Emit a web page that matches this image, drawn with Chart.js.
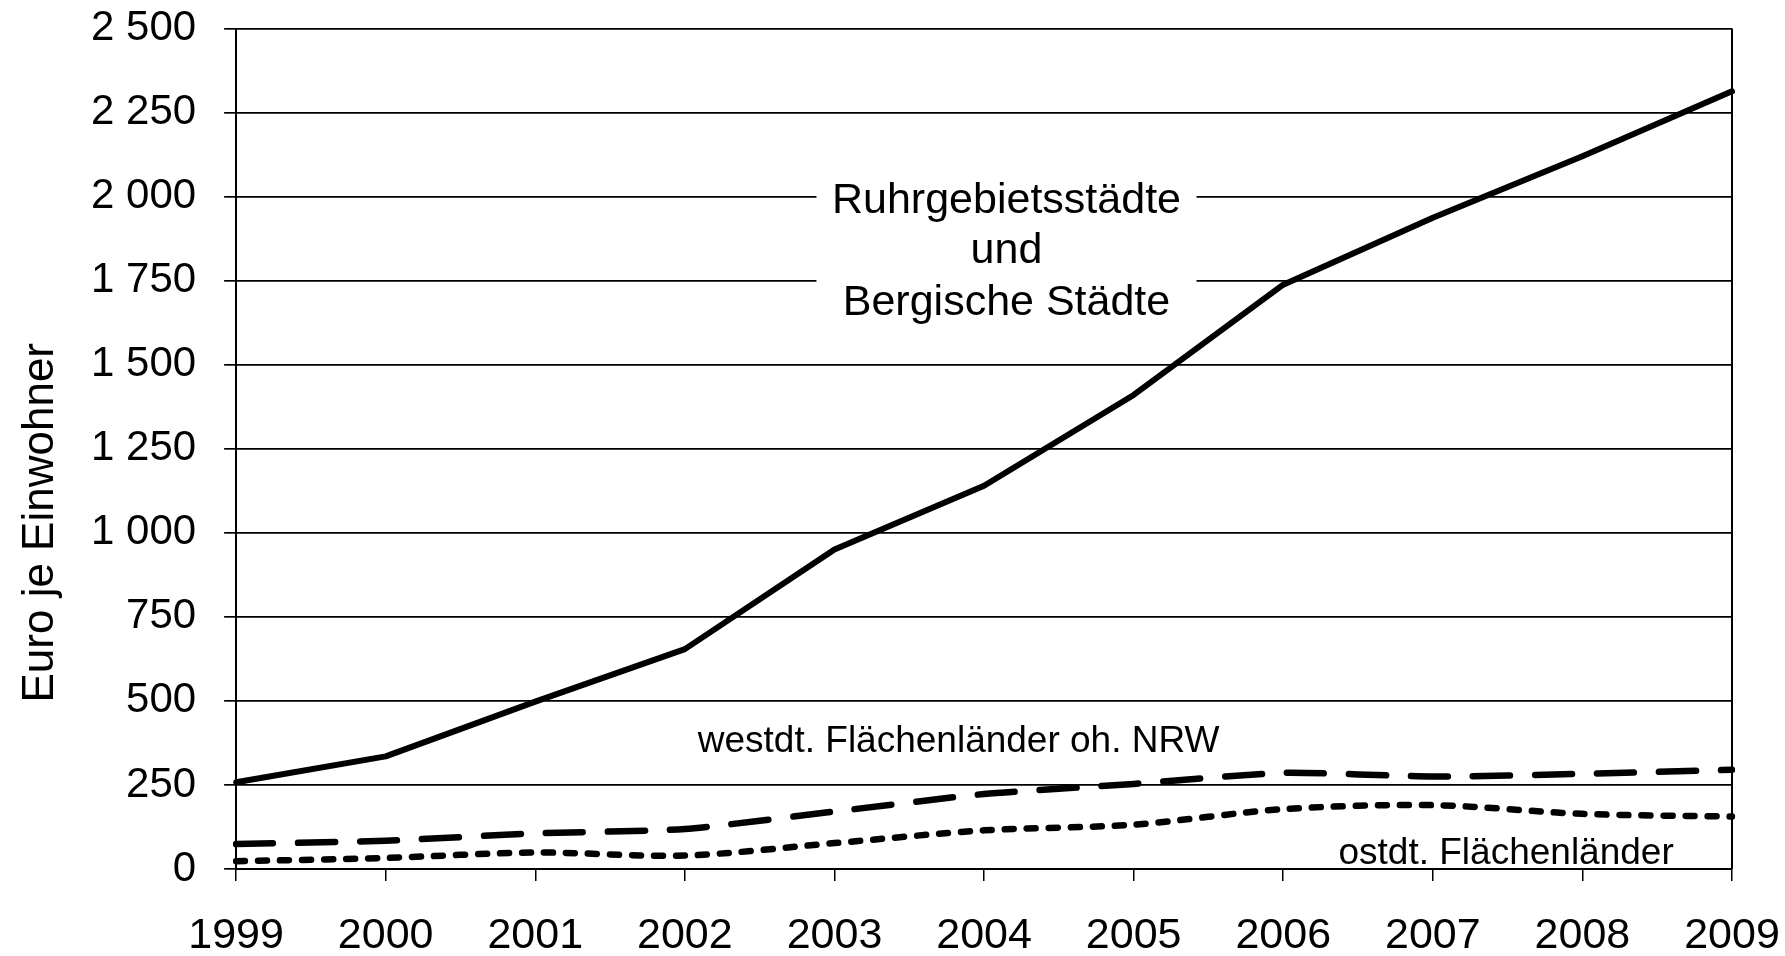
<!DOCTYPE html>
<html>
<head>
<meta charset="utf-8">
<script src="https://cdn.jsdelivr.net/npm/chart.js@4"></script>
<style>
html, body { margin: 0; padding: 0; background: #fff; overflow: hidden; }
canvas { display: block; }
</style>
</head>
<body>
<canvas id="myChart" width="1785" height="956"></canvas>
<script>
const years = ['1999', '2000', '2001', '2002', '2003', '2004', '2005', '2006', '2007', '2008', '2009'];
const ruhrValues = [258, 335, 498, 654, 950, 1140, 1410, 1738, 1937, 2120, 2313];
const westValues = [74, 84, 106, 119, 171, 223, 253, 286, 275, 283, 295];
const eastValues = [23, 33, 49, 40, 77, 115, 132, 178, 190, 164, 156];
const yTicks = [0, 250, 500, 750, 1000, 1250, 1500, 1750, 2000, 2250, 2500];

const yTitle = 'Euro je Einwohner';
const ruhrLabel = ['Ruhrgebietsstädte', 'und', 'Bergische Städte'];
const westLabel = 'westdt. Flächenländer oh. NRW';
const eastLabel = 'ostdt. Flächenländer';

const fontFamily = '"Liberation Sans", Arial, Helvetica, sans-serif';
Chart.defaults.font.family = fontFamily;
Chart.defaults.color = '#000';

// format 2500 -> "2 500"
function fmt(v) {
    if (v < 1000) return String(v);
    const th = Math.floor(v / 1000);
    const rest = String(v % 1000).padStart(3, '0');
    return th + ' ' + rest;
}

// y title, right border and the text labels inside the plot
const extras = {
    id: 'extras',
    beforeDatasetsDraw(chart) {
        const { ctx, chartArea, scales: { x, y } } = chart;
        ctx.save();

        ctx.strokeStyle = '#000';
        ctx.lineWidth = 2;
        ctx.beginPath();
        ctx.moveTo(chartArea.right, chartArea.top);
        ctx.lineTo(chartArea.right, chartArea.bottom);
        ctx.stroke();

        // Ruhr label with white box over the gridlines
        const cx = x.getPixelForValue(5.15);
        const by = y.getPixelForValue(1952);
        ctx.fillStyle = '#fff';
        ctx.fillRect(cx - 190, by - 42, 380, 160);
        ctx.fillStyle = '#000';
        ctx.textAlign = 'center';
        ctx.textBaseline = 'alphabetic';
        ctx.font = '43px ' + fontFamily;
        ctx.fillText(ruhrLabel[0], cx, by);
        ctx.fillText(ruhrLabel[1], cx, by + 50);
        ctx.fillText(ruhrLabel[2], cx, by + 102);

        ctx.font = '37px ' + fontFamily;
        ctx.fillText(westLabel, x.getPixelForValue(4.83), y.getPixelForValue(347));
        ctx.fillText(eastLabel, x.getPixelForValue(8.49), y.getPixelForValue(16));

        ctx.translate(53, (chartArea.top + chartArea.bottom) / 2 + 74);
        ctx.rotate(-Math.PI / 2);
        ctx.font = '44px ' + fontFamily;
        ctx.fillText(yTitle, 0, 0);
        ctx.restore();
    }
};

const ctx = document.getElementById('myChart');
const myChart = new Chart(ctx, {
    type: 'line',
    data: {
        labels: years,
        datasets: [{
            label: 'Ruhrgebietsstädte und Bergische Städte',
            data: ruhrValues,
            borderColor: '#000',
            borderWidth: 6,
            tension: 0,
            pointRadius: 0,
            borderCapStyle: 'round',
            borderJoinStyle: 'round'
        }, {
            label: westLabel,
            data: westValues,
            borderColor: '#000',
            borderWidth: 6.5,
            borderDash: [37, 25],
            borderCapStyle: 'round',
            tension: 0.2,
            pointRadius: 0
        }, {
            label: eastLabel,
            data: eastValues,
            borderColor: '#000',
            borderWidth: 6.5,
            borderDash: [9, 13],
            borderCapStyle: 'round',
            tension: 0.3,
            pointRadius: 0
        }]
    },
    options: {
        responsive: false,
        animation: false,
        layout: { padding: { left: 63, right: 53, top: 28.5, bottom: -35 } },
        plugins: {
            legend: { display: false },
            tooltip: { enabled: false }
        },
        scales: {
            x: {
                offset: false,
                grid: { drawOnChartArea: false, color: '#000', lineWidth: 1.5, tickLength: 12 },
                border: { color: '#000', width: 2 },
                ticks: { font: { size: 43, lineHeight: 100 / 43 }, padding: 5, maxRotation: 0, autoSkip: false }
            },
            y: {
                min: 0,
                max: 2500,
                afterBuildTicks: (scale) => { scale.ticks = yTicks.map(v => ({ value: v })); },
                grid: { color: '#000', lineWidth: 1.7, tickLength: 12 },
                border: { color: '#000', width: 2 },
                ticks: { font: { size: 42, lineHeight: 0.01 }, padding: 28, callback: (v) => fmt(v) }
            }
        }
    },
    plugins: [extras]
});
</script>
</body>
</html>
